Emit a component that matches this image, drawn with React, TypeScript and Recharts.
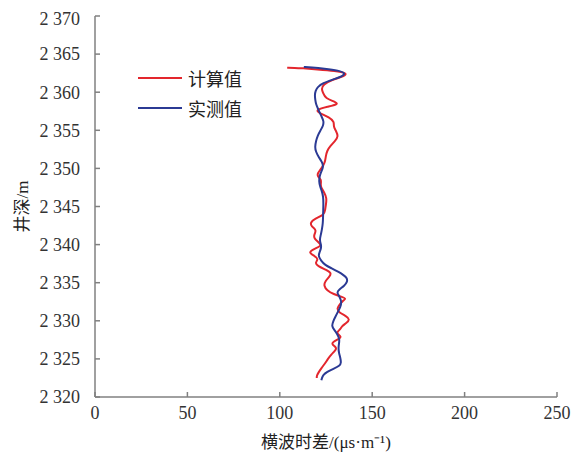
import React from 'react';
import { ScatterChart, Scatter, XAxis, YAxis, Legend } from 'recharts';

const calcDepth = [
  2363.2, 2363.2, 2363.15, 2363.0, 2362.8, 2362.5, 2362.1, 2361.6, 2361.0, 2360.4,
  2359.9, 2359.2, 2358.7, 2358.4, 2358.1, 2357.7, 2357.3, 2356.7, 2356.1, 2355.5,
  2354.9, 2354.2, 2353.6, 2353.0, 2352.3, 2351.5, 2350.8, 2350.0, 2349.4, 2349.0,
  2348.5, 2347.9, 2347.4, 2346.9, 2346.1, 2345.3, 2344.5, 2343.9, 2343.4, 2342.9,
  2342.4, 2341.9, 2341.3, 2340.8, 2340.2, 2339.8, 2339.4, 2338.9, 2338.5, 2338.1,
  2337.6, 2337.2, 2336.7, 2336.3, 2335.8, 2335.2, 2334.6, 2334.0, 2333.5, 2333.1,
  2332.9, 2332.6, 2332.2, 2331.6, 2331.1, 2330.6, 2330.2, 2329.7, 2329.3, 2328.9,
  2328.4, 2327.9, 2327.5, 2327.0, 2326.5, 2326.1, 2325.6, 2325.0, 2324.4, 2323.8,
  2323.2, 2322.8, 2322.5,
];
const calcValue = [
  104, 108, 112, 120, 130, 136.5, 135, 128, 123.5, 122.5,
  123.5, 124.5, 130.5, 131.5, 126, 119.5, 121, 127, 129.5, 129,
  130.5, 131.7, 130, 127.5, 125.5, 124.8, 124.5, 122.6, 120.5, 120.3,
  122.6, 122, 122.5, 124, 125.4, 125, 124.5, 124, 119, 116.5,
  117, 120, 118.5, 118.5, 121.5, 122.5, 118, 115.5, 119, 121,
  119, 120.5, 125, 128, 127, 124.5, 123.8, 125.5, 129, 134,
  136, 134, 132.5, 130.8, 132, 136, 138, 136, 133.5, 133,
  130, 134, 131, 127.2, 131, 130, 128, 126, 124.5, 122.5,
  120.9, 120, 120,
];

// 实测值 (blue)
const measDepth = [
  2363.3, 2363.25, 2363.1, 2362.85, 2362.5, 2362.1, 2361.6, 2361.2, 2360.7, 2360.2,
  2359.6, 2359.0, 2358.4, 2357.7, 2356.8, 2356.2, 2355.6, 2355.0, 2354.3, 2353.6,
  2352.8, 2352.2, 2351.5, 2350.8, 2350.2, 2349.6, 2349.0, 2348.3, 2347.6, 2347.0,
  2346.3, 2345.4, 2344.5, 2343.6, 2342.8, 2342.0, 2341.4, 2340.6, 2340.1, 2339.6,
  2339.0, 2338.5, 2337.9, 2337.3, 2336.9, 2336.4, 2336.0, 2335.6, 2335.1, 2334.6,
  2334.1, 2333.7, 2333.2, 2332.5, 2331.8, 2331.2, 2330.5, 2330.0, 2329.3, 2328.8,
  2328.3, 2327.6, 2327.0, 2326.4, 2325.8, 2325.1, 2324.5, 2324.1, 2323.7, 2323.3,
  2322.9, 2322.5, 2322.2,
];
const measValue = [
  113, 117, 124, 132, 135.5, 134, 128, 123.4, 120.5, 119.3,
  118.9, 119.2, 119.6, 120.9, 122.6, 123.8, 123.5, 122, 120.5, 119.6,
  119, 119.5, 121, 123, 123.6, 122.5, 121.5, 121.2, 121.8, 122.8,
  123.5, 123.6, 123.5, 123.4, 123.3, 122.8, 122.3, 121.5, 122.2, 122.5,
  121.5, 120.8, 122.3, 124.5, 128, 132, 134.5, 136.5, 136.5, 135,
  132, 130.8, 132.3, 133.5, 132.8, 131.5, 130, 129, 128, 129.5,
  131, 132.4, 132, 131.7, 132, 132.8, 133.2, 132.5, 129, 125.5,
  123.5, 122.8, 122.5,
];

const xTicks = [0, 50, 100, 150, 200, 250];
const yTicks = [2320, 2325, 2330, 2335, 2340, 2345, 2350, 2355, 2360, 2365, 2370];

const calcData = calcDepth.map((d, i) => ({ x: calcValue[i], y: d }));
const measData = measDepth.map((d, i) => ({ x: measValue[i], y: d }));

const RED = '#e3262d';
const BLUE = '#2b3a94';
const FONT = '"Liberation Serif", "Noto Sans CJK SC", serif';

const fmtDepth = (v: number) => {
  const s = String(v);
  return s.slice(0, 1) + ' ' + s.slice(1);
};

const LegendBox = () => (
  <div style={{ fontFamily: FONT, fontSize: 18, color: '#222' }}>
    {[
      { label: '计算值', color: RED },
      { label: '实测值', color: BLUE },
    ].map((item) => (
      <div key={item.label} style={{ display: 'flex', alignItems: 'center', height: 30 }}>
        <span style={{ display: 'inline-block', width: 44, height: 2, background: item.color, marginRight: 6 }} />
        <span>{item.label}</span>
      </div>
    ))}
  </div>
);

const App: React.FC = () => {
  return (
    <ScatterChart width={579} height={449} margin={{ top: 8, right: 30, left: 0, bottom: 0 }}>
      <XAxis
        type="number"
        dataKey="x"
        domain={[0, 250]}
        ticks={xTicks}
        height={60}
        stroke="#808080"
        strokeWidth={1.5}
        tickSize={-5}
        tickMargin={14}
        tick={{ fontSize: 18, fill: '#333', fontFamily: FONT }}
        label={{ value: '横波时差/(μs·m⁻¹)', position: 'insideBottom', offset: 9, style: { fontSize: 17, fill: '#222', fontFamily: FONT } }}
      />
      <YAxis
        type="number"
        dataKey="y"
        domain={[2320, 2370]}
        ticks={yTicks}
        width={87}
        stroke="#808080"
        strokeWidth={1.5}
        tickSize={-5}
        tickMargin={20}
        tickFormatter={fmtDepth}
        tick={{ fontSize: 18, fill: '#333', fontFamily: FONT }}
        label={{ value: '井深/m', angle: -90, position: 'insideLeft', offset: 14, style: { textAnchor: 'middle', fontSize: 17, fill: '#222', fontFamily: FONT } }}
      />
      <Legend
        layout="vertical"
        align="center"
        verticalAlign="middle"
        content={<LegendBox />}
        wrapperStyle={{ top: 55, left: 130, width: 'auto' }}
      />
      <Scatter data={calcData} line={{ stroke: RED, strokeWidth: 2 }} lineJointType="basis" shape={() => <g />} isAnimationActive={false} />
      <Scatter data={measData} line={{ stroke: BLUE, strokeWidth: 2 }} lineJointType="basis" shape={() => <g />} isAnimationActive={false} />
    </ScatterChart>
  );
};

export default App;
